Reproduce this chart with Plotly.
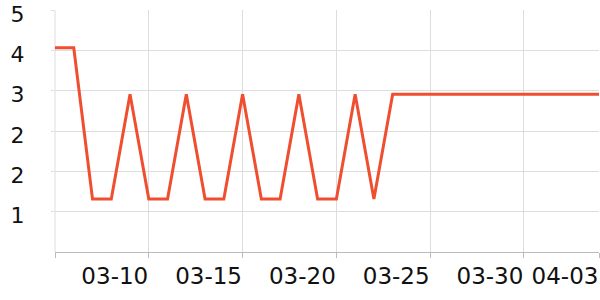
import plotly.graph_objects as go
import pandas as pd

dates = pd.date_range("2024-03-05", "2024-04-03", freq="D").strftime("%Y-%m-%d").tolist()
values = [4.05, 4.05, 1.05, 1.05, 3.13, 1.05, 1.05, 3.13, 1.05, 1.05,
          3.13, 1.05, 1.05, 3.13, 1.05, 1.05, 3.13, 1.05, 3.13, 3.13,
          3.13, 3.13, 3.13, 3.13, 3.13, 3.13, 3.13, 3.13, 3.13, 3.13]
x_tickvals = ["2024-03-05", "2024-03-10", "2024-03-15", "2024-03-20",
              "2024-03-25", "2024-03-30", "2024-04-03"]
x_ticktext = ["", "03-10", "03-15", "03-20", "03-25", "03-30", "04-03"]
y_tickvals = [0.8, 1.6, 2.4, 3.2, 4.0, 4.8]

fig = go.Figure()
fig.add_trace(go.Scatter(x=dates, y=values, mode="lines",
                         line=dict(color="#F04E30", width=3),
                         cliponaxis=False, showlegend=False))

fig.update_layout(
    width=600, height=300, autosize=False,
    margin=dict(l=55, r=1, t=10, b=48),
    paper_bgcolor="white", plot_bgcolor="white",
    font=dict(family="DejaVu Sans", size=22, color="#111111"),
)
fig.update_xaxes(
    range=["2024-03-05", "2024-04-03"], automargin=False,
    tickmode="array", tickvals=x_tickvals, ticktext=x_ticktext,
    showgrid=True, gridcolor="#dddddd", gridwidth=1,
    showline=True, linecolor="#bbbbbb", linewidth=1,
    ticks="outside", ticklen=5, tickcolor="#bbbbbb",
    ticklabelshift=-34, ticklabelstandoff=-2,
    tickfont=dict(size=23),
    zeroline=False,
)
fig.update_yaxes(
    range=[0, 4.8001], automargin=False,
    tickmode="array", tickvals=y_tickvals, tickformat=".0f",
    showgrid=True, gridcolor="#dddddd", gridwidth=1,
    showline=False,
    ticks="outside", ticklen=3, tickcolor="#dddddd",
    ticklabelstandoff=22, ticklabeloverflow="allow",
    ticklabelshift=4,
    tickfont=dict(size=22),
    zeroline=False,
)
fig.add_shape(type="line", xref="paper", yref="paper", x0=0, x1=0, y0=0, y1=1,
              line=dict(color="#dddddd", width=1), layer="below")

fig.write_html("out.html")
